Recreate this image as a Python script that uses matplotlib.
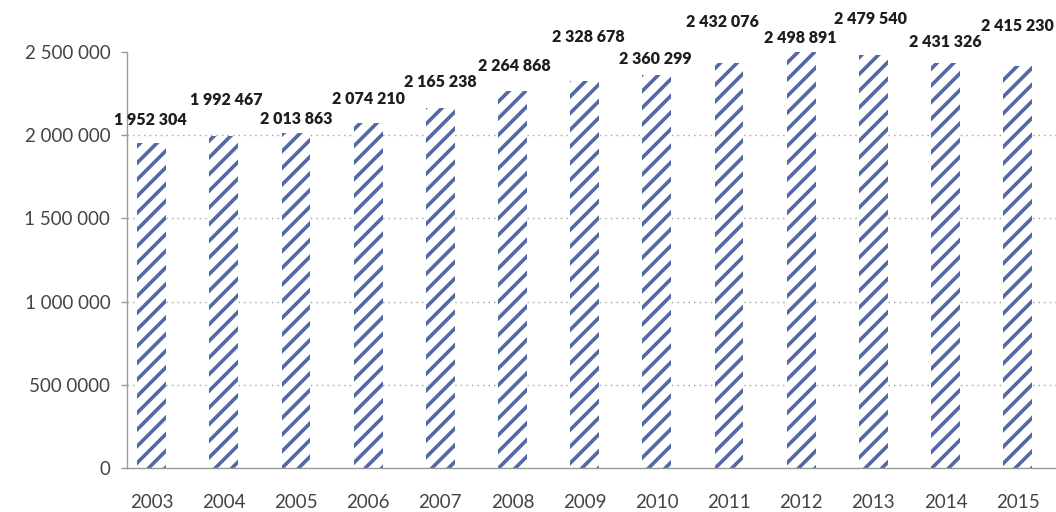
import matplotlib.pyplot as plt

years = ["2003", "2004", "2005", "2006", "2007", "2008", "2009",
         "2010", "2011", "2012", "2013", "2014", "2015"]
values = [1952304, 1992467, 2013863, 2074210, 2165238, 2264868, 2328678,
          2360299, 2432076, 2498891, 2479540, 2431326, 2415230]
ytick_values = [0, 500000, 1000000, 1500000, 2000000, 2500000]
ytick_labels = ["0", "500 0000", "1 000 000", "1 500 000", "2 000 000", "2 500 000"]

# label offsets from bar top (points), labels are staggered in the original
label_dy = [17, 26, 10, 17, 18.5, 18, 31, 11.5, 29.5, 10, 26, 15.5, 29]
label_dx = [-1, 1.5, 0, 0, 0, 1, 2.5, -1, -4.5, -1, -2, 0, 0]

blue = "#5468a6"
plt.rcParams['font.family'] = ['Lato', 'DejaVu Sans']
plt.rcParams['hatch.linewidth'] = 2.6

fig = plt.figure(figsize=(10.56, 5.12), dpi=100)
ax = fig.add_axes([0.1203, 0.0859, 0.8797, 0.8125])

x = list(range(len(years)))
ax.bar(x, values, width=0.4, color="white", edgecolor=blue,
       hatch="//", linewidth=0, zorder=2)

for i, v in enumerate(values):
    s = f"{v:,}".replace(",", " ")
    ax.annotate(s, (i, v), xytext=(label_dx[i], label_dy[i]),
                textcoords="offset points", ha="center", va="center",
                fontsize=11.5, fontweight="heavy", color="#1e1e1e",
                annotation_clip=False)

ax.set_xlim(-0.34, 12.53)
ax.set_ylim(0, 2500000)
ax.set_xticks(x)
ax.set_xticklabels(years)
ax.set_yticks(ytick_values)
ax.set_yticklabels(ytick_labels)

ax.tick_params(axis="y", length=4, width=1, color="#999999", pad=8,
               labelsize=13.5, labelcolor="#444444")
ax.tick_params(axis="x", length=0, pad=19, labelsize=13.5, labelcolor="#444444")

for side in ["top", "right"]:
    ax.spines[side].set_visible(False)
for side in ["left", "bottom"]:
    ax.spines[side].set_color("#999999")
    ax.spines[side].set_linewidth(1)

ax.yaxis.grid(True, color="#a0a0a0", linestyle=(0, (1, 3)), linewidth=1, zorder=0)
ax.set_axisbelow(True)
ax.get_ygridlines()[-1].set_visible(False)
ax.get_ygridlines()[0].set_visible(False)

plt.savefig("out.png", dpi=100)
